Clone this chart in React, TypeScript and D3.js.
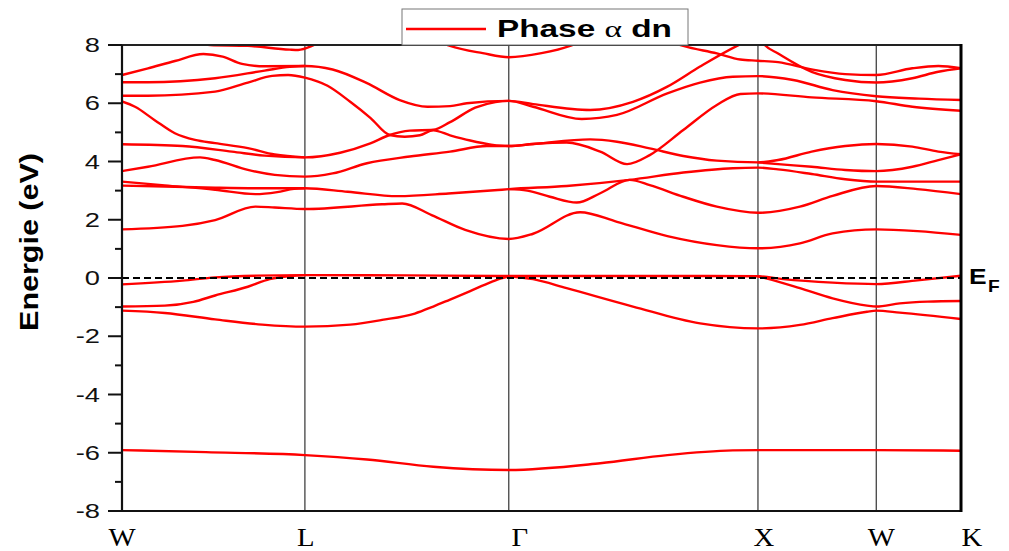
import React, { useEffect, useRef } from 'react';
import * as d3 from 'd3';

// high-symmetry points along the k path (fraction of path length)
const KPOINTS = [0, 0.218, 0.461, 0.758, 0.899, 1];
const KLABELS = ['W', 'L', 'Γ', 'X', 'W', 'K'];

const Y_TICKS = [-8, -6, -4, -2, 0, 2, 4, 6, 8];
const Y_MINOR = [-7, -5, -3, -1, 1, 3, 5, 7];

// bands: [k, E (eV)]
const band1 = [[0, -5.91], [0.1, -5.98], [0.218, -6.08], [0.292, -6.23], [0.371, -6.48], [0.461, -6.59], [0.57, -6.36], [0.65, -6.08], [0.728, -5.92], [0.758, -5.91], [0.899, -5.91], [1, -5.93]];
const band2 = [[0, -1.12], [0.051, -1.2], [0.111, -1.42], [0.167, -1.6], [0.218, -1.67], [0.272, -1.6], [0.31, -1.44], [0.349, -1.22], [0.371, -0.98], [0.391, -0.74], [0.415, -0.45], [0.439, -0.15], [0.452, -0.01], [0.461, 0.06]];
const band3 = [[0, -0.98], [0.051, -0.95], [0.085, -0.82], [0.111, -0.6], [0.15, -0.3], [0.176, -0.04], [0.2, 0.07], [0.218, 0.1]];
const band4 = [[0, -0.22], [0.072, -0.09], [0.111, 0.02], [0.16, 0.08], [0.218, 0.1], [0.34, 0.09], [0.461, 0.07], [0.6, 0.07], [0.758, 0.06], [0.788, -0.04], [0.847, -0.16], [0.899, -0.21], [0.948, -0.08], [1, 0.08]];
const band5 = [[0.461, 0.06], [0.49, -0.04], [0.53, -0.35], [0.609, -0.98], [0.689, -1.56], [0.758, -1.73], [0.808, -1.61], [0.847, -1.38], [0.888, -1.16], [0.899, -1.12], [0.927, -1.19], [1, -1.41]];
const band6 = [[0.758, 0.06], [0.769, -0.02], [0.808, -0.35], [0.847, -0.7], [0.888, -0.95], [0.899, -0.98], [0.927, -0.87], [0.96, -0.81], [1, -0.79]];
const band7 = [[0, 1.67], [0.072, 1.79], [0.111, 1.99], [0.159, 2.45], [0.182, 2.42], [0.218, 2.37], [0.31, 2.53], [0.334, 2.56], [0.369, 2.16], [0.409, 1.65], [0.461, 1.34], [0.49, 1.52], [0.546, 2.26], [0.59, 1.93], [0.65, 1.44], [0.709, 1.13], [0.758, 1.02], [0.808, 1.19], [0.847, 1.53], [0.899, 1.67], [0.948, 1.61], [1, 1.48]];
const band8 = [[0, 3.17], [0.051, 3.14], [0.111, 3.1], [0.167, 3.08], [0.218, 3.08], [0.269, 2.96], [0.329, 2.81], [0.389, 2.9], [0.448, 3.02], [0.461, 3.05], [0.53, 3.16], [0.605, 3.37], [0.669, 3.62], [0.728, 3.77], [0.758, 3.79], [0.782, 3.73], [0.822, 3.57], [0.862, 3.39], [0.899, 3.31], [1, 3.31]];
const band9 = [[0, 3.31], [0.051, 3.18], [0.111, 3.03], [0.159, 2.88], [0.185, 2.95], [0.205, 3.06], [0.218, 3.08]];
const band10 = [[0.461, 3.05], [0.483, 3.0], [0.51, 2.79], [0.542, 2.59], [0.57, 2.91], [0.605, 3.37], [0.629, 3.19], [0.669, 2.79], [0.709, 2.45], [0.758, 2.24], [0.808, 2.45], [0.847, 2.82], [0.899, 3.16], [0.948, 3.05], [1, 2.88]];
const band11 = [[0, 3.67], [0.031, 3.82], [0.093, 4.14], [0.111, 4.05], [0.15, 3.71], [0.182, 3.54], [0.218, 3.48], [0.251, 3.59], [0.292, 3.94], [0.343, 4.17], [0.391, 4.34], [0.435, 4.53], [0.461, 4.53], [0.49, 4.6], [0.558, 4.76], [0.59, 4.68], [0.629, 4.45], [0.669, 4.19], [0.709, 4.03], [0.758, 3.97], [0.782, 4.05], [0.822, 4.34], [0.862, 4.53], [0.899, 4.6], [0.942, 4.51], [0.973, 4.34], [1, 4.25]];
const band12 = [[0.758, 3.97], [0.782, 3.91], [0.822, 3.82], [0.862, 3.71], [0.899, 3.67], [0.942, 3.82], [0.973, 4.05], [1, 4.25]];
const band13 = [[0, 4.59], [0.072, 4.53], [0.131, 4.34], [0.17, 4.2], [0.218, 4.14], [0.26, 4.3], [0.296, 4.62], [0.319, 4.91], [0.343, 5.06], [0.371, 5.09], [0.391, 5.35], [0.421, 5.85], [0.445, 6.04], [0.461, 6.08], [0.49, 5.97], [0.558, 5.77], [0.609, 6.05], [0.65, 6.57], [0.689, 7.26], [0.733, 7.97], [0.758, 8.3], [0.766, 8.0], [0.782, 7.71], [0.822, 7.08], [0.862, 6.8], [0.899, 6.71], [0.942, 6.86], [0.973, 7.08], [1, 7.2]];
const band14 = [[0, 6.06], [0.0155, 5.88], [0.039, 5.42], [0.063, 4.97], [0.087, 4.74], [0.111, 4.63], [0.15, 4.46], [0.182, 4.24], [0.218, 4.14]];
const band15 = [[0, 6.26], [0.031, 6.26], [0.111, 6.4], [0.15, 6.71], [0.179, 6.94], [0.198, 6.97], [0.218, 6.88], [0.245, 6.6], [0.272, 6.05], [0.296, 5.5], [0.319, 4.91], [0.337, 4.85], [0.355, 4.9], [0.371, 5.07], [0.391, 4.9], [0.415, 4.72], [0.44, 4.58], [0.461, 4.53], [0.49, 4.6], [0.53, 4.65], [0.57, 4.34], [0.602, 3.91], [0.629, 4.22], [0.669, 5.08], [0.709, 5.94], [0.737, 6.32], [0.758, 6.34], [0.822, 6.2], [0.899, 6.07], [0.942, 5.88], [1, 5.74]];
const band16 = [[0, 6.72], [0.031, 6.72], [0.111, 6.86], [0.17, 7.12], [0.2, 7.25], [0.218, 7.28], [0.251, 7.16], [0.292, 6.69], [0.331, 6.11], [0.364, 5.88], [0.391, 5.9], [0.411, 6.0], [0.461, 6.08], [0.49, 5.88], [0.548, 5.46], [0.59, 5.6], [0.65, 6.34], [0.689, 6.71], [0.728, 6.91], [0.758, 6.93], [0.8, 6.8], [0.847, 6.45], [0.899, 6.24], [0.95, 6.16], [1, 6.11]];
const band17 = [[0, 6.97], [0.031, 7.2], [0.063, 7.45], [0.097, 7.69], [0.12, 7.6], [0.143, 7.35], [0.17, 7.27], [0.218, 7.28]];
const bandT1 = [[0.081, 8.1], [0.105, 8.0], [0.15, 7.97], [0.2, 7.84], [0.21, 7.83], [0.225, 7.95], [0.235, 8.1]];
const bandT2 = [[0.379, 8.1], [0.391, 7.97], [0.43, 7.72], [0.461, 7.58], [0.5, 7.72], [0.534, 7.97], [0.545, 8.1]];
const bandT3 = [[0.655, 8.1], [0.669, 7.97], [0.709, 7.71], [0.737, 7.5], [0.758, 7.46], [0.782, 7.41], [0.822, 7.16], [0.862, 7.0], [0.899, 6.97], [0.942, 7.2], [0.973, 7.28], [1, 7.2]];

const BANDS = [band1, band2, band3, band4, band5, band6, band7, band8, band9, band10, band11, band12, band13, band14, band15, band16, band17, bandT1, bandT2, bandT3];

const LEGEND_LABEL = 'Phase ';
const LEGEND_GREEK = 'α';
const LEGEND_TAIL = ' dn';

const BandStructure = () => {
    const ref = useRef(null);

    useEffect(() => {
        const svg = d3.select(ref.current);
        svg.selectAll('*').remove();

        const left = 122, right = 961, top = 45, bottom = 511;
        const x = d3.scaleLinear().domain([0, 1]).range([left, right]);
        const y = d3.scaleLinear().domain([-8, 8]).range([bottom, top]);
        const sans = 'Liberation Sans, Arial, sans-serif';
        // the k labels sit a little right of their lines in the original
        const labelNudge = [0, 1, 11, 6, 5, 11];

        svg.append('defs').append('clipPath').attr('id', 'plotclip')
            .append('rect').attr('x', left).attr('y', top)
            .attr('width', right - left).attr('height', bottom - top);

        // vertical lines at high-symmetry points
        svg.append('g').selectAll('line')
            .data(KPOINTS.slice(1, -1))
            .join('line')
            .attr('x1', d => x(d)).attr('x2', d => x(d))
            .attr('y1', top).attr('y2', bottom)
            .attr('stroke', '#333').attr('stroke-width', 1.2);

        const line = d3.line()
            .x(d => x(d[0]))
            .y(d => y(d[1]))
            .curve(d3.curveMonotoneX);

        svg.append('g').attr('clip-path', 'url(#plotclip)')
            .selectAll('path')
            .data(BANDS)
            .join('path')
            .attr('fill', 'none')
            .attr('stroke', '#ff0000')
            .attr('stroke-width', 2.4)
            .attr('d', line);

        // Fermi level
        svg.append('line')
            .attr('x1', left).attr('x2', right)
            .attr('y1', y(0)).attr('y2', y(0))
            .attr('stroke', '#000').attr('stroke-width', 2)
            .attr('stroke-dasharray', '7,4');

        // frame
        svg.append('line').attr('x1', left - 14).attr('x2', right).attr('y1', top).attr('y2', top)
            .attr('stroke', '#222').attr('stroke-width', 2);
        svg.append('line').attr('x1', left - 14).attr('x2', right).attr('y1', bottom).attr('y2', bottom)
            .attr('stroke', '#111').attr('stroke-width', 2);
        svg.append('line').attr('x1', left).attr('x2', left).attr('y1', top).attr('y2', bottom)
            .attr('stroke', '#111').attr('stroke-width', 2.2);
        svg.append('line').attr('x1', right).attr('x2', right).attr('y1', top - 1).attr('y2', bottom + 1)
            .attr('stroke', '#000').attr('stroke-width', 3);

        // y ticks
        svg.append('g').selectAll('line')
            .data(Y_TICKS)
            .join('line')
            .attr('x1', left - 14).attr('x2', left)
            .attr('y1', d => y(d)).attr('y2', d => y(d))
            .attr('stroke', '#111').attr('stroke-width', 2);
        svg.append('g').selectAll('line')
            .data(Y_MINOR)
            .join('line')
            .attr('x1', left - 7).attr('x2', left)
            .attr('y1', d => y(d)).attr('y2', d => y(d))
            .attr('stroke', '#111').attr('stroke-width', 2);

        svg.append('g').selectAll('text')
            .data(Y_TICKS)
            .join('text')
            .attr('transform', d => `translate(${left - 22},${y(d) + 7}) scale(1.4,1)`)
            .attr('text-anchor', 'end')
            .attr('font-family', sans)
            .attr('font-size', 19.5)
            .attr('fill', '#111')
            .text(d => d);

        svg.append('text')
            .attr('transform', `translate(38,${(top + bottom) / 2 - 36}) rotate(-90) scale(1.22,1)`)
            .attr('text-anchor', 'middle')
            .attr('font-family', sans)
            .attr('font-weight', 'bold')
            .attr('font-size', 25)
            .text('Energie (eV)');

        // k labels
        svg.append('g').selectAll('text')
            .data(KPOINTS)
            .join('text')
            .attr('transform', (d, i) => `translate(${x(d) + labelNudge[i]},546) scale(1.15,1)`)
            .attr('text-anchor', 'middle')
            .attr('font-family', 'Liberation Serif, Times New Roman, serif')
            .attr('font-size', 25)
            .text((d, i) => KLABELS[i]);

        // E_F label
        const ef = svg.append('g').attr('font-family', sans).attr('font-weight', 'bold');
        ef.append('text')
            .attr('transform', `translate(969,${y(0) + 6}) scale(1.2,1)`)
            .attr('font-size', 22)
            .text('E');
        ef.append('text')
            .attr('transform', `translate(988,${y(0) + 14}) scale(1.2,1)`)
            .attr('font-size', 16)
            .text('F');

        // legend
        const lg = svg.append('g');
        lg.append('rect')
            .attr('x', 402).attr('y', 9).attr('width', 286).attr('height', 36)
            .attr('fill', '#fff').attr('stroke', '#777').attr('stroke-width', 1);
        lg.append('line')
            .attr('x1', 406).attr('x2', 486).attr('y1', 29).attr('y2', 29)
            .attr('stroke', '#ff0000').attr('stroke-width', 2.3);
        const lt = lg.append('text')
            .attr('transform', 'translate(497,37) scale(1.45,1)')
            .attr('font-family', sans)
            .attr('font-size', 23)
            .attr('font-weight', 'bold');
        lt.append('tspan').text(LEGEND_LABEL);
        lt.append('tspan').attr('font-weight', 'normal').attr('font-family', 'Liberation Serif, serif').text(LEGEND_GREEK);
        lt.append('tspan').text(LEGEND_TAIL);
    }, []);

    return (
        <svg
            ref={ref}
            width={1009}
            height={551}
            style={{ position: 'absolute', left: 0, top: 0, background: '#fff' }}
        />
    );
};

export default function App() {
    return <BandStructure />;
}
